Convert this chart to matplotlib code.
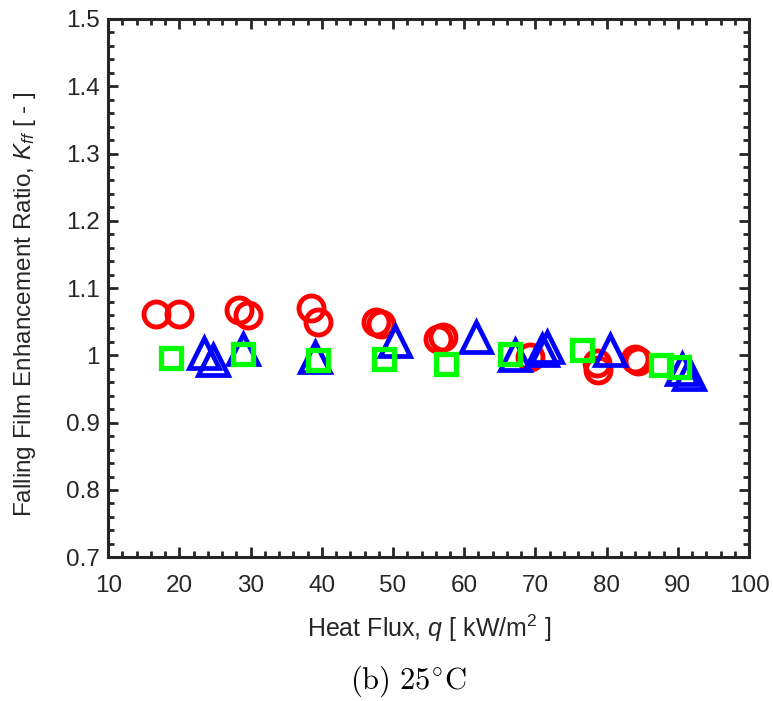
import matplotlib
matplotlib.use('Agg')
import matplotlib.pyplot as plt
from matplotlib.ticker import MultipleLocator, FuncFormatter

plt.rcParams['font.family'] = ['Liberation Sans', 'DejaVu Sans']
plt.rcParams['mathtext.fontset'] = 'custom'
plt.rcParams['mathtext.it'] = 'Liberation Sans:italic'
plt.rcParams['mathtext.rm'] = 'Liberation Sans'

# data
q_circle = [16.7, 20.0, 28.4, 29.6, 38.5, 39.4, 47.6, 48.3, 56.3, 57.0, 69.2, 78.6, 78.8, 84.0, 84.4]
k_circle = [1.062, 1.062, 1.067, 1.060, 1.070, 1.050, 1.050, 1.046, 1.025, 1.028, 0.998, 0.988, 0.978, 0.995, 0.992]

q_tri = [23.5, 24.7, 28.9, 39.0, 50.3, 61.7, 67.2, 70.9, 71.6, 80.5, 90.6, 91.5]
k_tri = [1.003, 0.993, 1.010, 0.998, 1.022, 1.028, 1.000, 1.008, 1.013, 1.008, 0.980, 0.973]

q_sq = [18.8, 28.9, 39.4, 48.8, 57.5, 66.4, 76.5, 87.7, 90.1]
k_sq = [0.996, 1.002, 0.993, 0.995, 0.987, 1.002, 1.008, 0.986, 0.983]

fig = plt.figure(figsize=(7.73, 7.01), dpi=100)
ax = fig.add_axes([0.140, 0.205, 0.829, 0.768])

ax.plot(q_circle, k_circle, 'o', ls='none', mfc='none', mec=(1, 0, 0), ms=18, mew=3.5)
ax.plot(q_tri, k_tri, '^', ls='none', mfc='none', mec=(0, 0, 1), ms=21, mew=3.4)
ax.plot(q_sq, k_sq, 's', ls='none', mfc='none', mec=(0, 1, 0), ms=14.5, mew=3.8)

ax.set_xlim(10, 100)
ax.set_ylim(0.7, 1.5)
ax.xaxis.set_major_locator(MultipleLocator(10))
ax.xaxis.set_minor_locator(MultipleLocator(2))
ax.yaxis.set_major_locator(MultipleLocator(0.1))
ax.yaxis.set_minor_locator(MultipleLocator(0.02))
ax.yaxis.set_major_formatter(FuncFormatter(lambda v, p: '%g' % round(v, 2)))

ax.tick_params(which='both', direction='in', top=True, right=True, width=2, colors='#262626',
               labelsize=17.5)
ax.tick_params(which='major', length=7)
ax.tick_params(which='minor', length=4)
ax.tick_params(axis='x', which='major', pad=13)
ax.tick_params(axis='y', which='major', pad=6)
for s in ax.spines.values():
    s.set_linewidth(2.2)
    s.set_color('#262626')

ax.set_xlabel('Heat Flux, $q$ [ kW/m$^2$ ]', fontsize=18, color='#262626', labelpad=11)
ax.set_ylabel('Falling Film Enhancement Ratio, $K_{ff}$ [ - ]', fontsize=17.5, color='#262626')
ax.yaxis.set_label_coords(-0.11, 0.47)

fig.text(0.528, 0.028, r'$\mathrm{(b)\ 25^{\circ}C}$', ha='center', va='center', fontsize=22,
         math_fontfamily='cm')

fig.savefig('out.png', dpi=100)
